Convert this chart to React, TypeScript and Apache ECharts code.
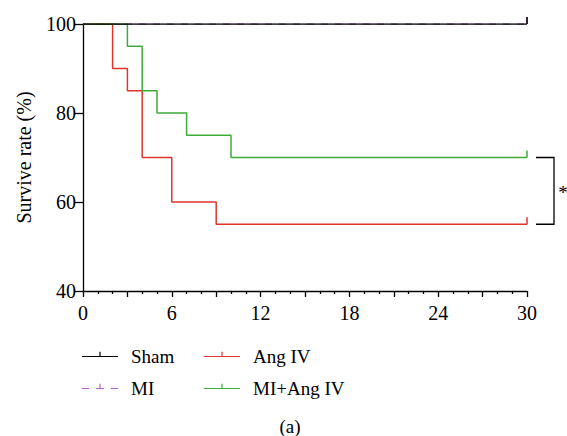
import React, { useEffect, useRef } from "react";
import * as echarts from "echarts";

const seriesNames = ["Sham", "MI", "Ang IV", "MI+Ang IV"];
const seriesColors = ["#000000", "#b85fcf", "#e0342f", "#3dac38"];
const shamData = [[0, 100], [30, 100]];
const miData = [[0, 100], [30, 100]];
const angData = [[0, 100], [2, 90], [3, 85], [4, 70], [6, 60], [9, 55], [30, 55]];
const miAngData = [[0, 100], [3, 95], [4, 85], [5, 80], [7, 75], [10, 70], [30, 70]];
const censorPoints = [[[30, 100]], [[30, 100]], [[30, 55]], [[30, 70]]];
const xTicksLabeled = [0, 6, 12, 18, 24, 30];
const yTicks = [40, 60, 80, 100];
const bracketValues = [70, 55];

const FONT = "'Liberation Serif', 'Times New Roman', serif";

const solidIcon =
  "path://M0,0h0.01v0.01h-0.01z M0,13.99h0.01v0.01h-0.01z M0,6.4H36V7.6H0Z M17.4,2.2H18.6V6.4H17.4Z";
const dashIcon =
  "path://M0,0h0.01v0.01h-0.01z M0,13.99h0.01v0.01h-0.01z M0,6.4H7V7.6H0Z M14,6.4H22V7.6H14Z M29,6.4H36V7.6H29Z M17.4,2.2H18.6V6.4H17.4Z";

export default function App() {
  const ref = useRef<HTMLDivElement>(null);
  useEffect(() => {
    document.body.style.margin = "0";
    const chart = echarts.init(ref.current!, null, { renderer: "svg" });
    const lineData = [shamData, miData, angData, miAngData];
    const order = [1, 0, 2, 3];
    const series: any[] = [];
    order.forEach((i) => {
      series.push({
        name: seriesNames[i],
        type: "line",
        step: "end",
        symbol: "none",
        data: lineData[i],
        itemStyle: { color: seriesColors[i] },
        lineStyle: {
          color: seriesColors[i],
          width: i === 0 ? 1.4 : 1.5,
          type: i === 1 ? [7, 7] : "solid",
        },
        z: i === 0 ? 4 : 3,
      });
    });
    order.forEach((i) => {
      series.push({
        name: seriesNames[i],
        type: "custom",
        data: censorPoints[i],
        renderItem: (params: any, api: any) => {
          const p = api.coord([api.value(0), api.value(1)]);
          return {
            type: "line",
            shape: { x1: p[0], y1: p[1], x2: p[0], y2: p[1] - 7 },
            style: { stroke: seriesColors[i], lineWidth: 1.5 },
          };
        },
        z: 5,
      });
    });

    const legendItem = (i: number) => ({
      name: seriesNames[i],
      icon: i === 1 ? dashIcon : solidIcon,
      itemStyle: { color: seriesColors[i], borderWidth: 0 },
      lineStyle: { width: 0, opacity: 0 },
    });
    const legendCommon = {
      orient: "vertical",
      itemWidth: 36,
      itemHeight: 14,
      itemGap: 13,
      selectedMode: false,
      textStyle: {
        fontFamily: FONT,
        fontSize: 19,
        color: "#000",
        padding: [0, 0, 0, 8],
      },
    };

    chart.setOption({
      animation: false,
      grid: { left: 83, right: 40, top: 24, bottom: 145, containLabel: false },
      xAxis: {
        type: "value",
        min: 0,
        max: 30,
        interval: 3,
        axisLine: { lineStyle: { color: "#000", width: 1.3 } },
        axisTick: { show: true, length: 6, lineStyle: { color: "#000", width: 1.3 } },
        minorTick: { show: true, splitNumber: 3, length: 3, lineStyle: { color: "#000", width: 1.3 } },
        splitLine: { show: false },
        axisLabel: {
          margin: 12,
          fontFamily: FONT,
          fontSize: 20,
          color: "#000",
          formatter: (v: number) => (xTicksLabeled.includes(v) ? String(v) : ""),
        },
      },
      yAxis: {
        type: "value",
        min: yTicks[0],
        max: yTicks[yTicks.length - 1],
        interval: 20,
        name: "Survive rate (%)",
        nameLocation: "middle",
        nameGap: 49,
        nameTextStyle: { fontFamily: FONT, fontSize: 20, color: "#000" },
        axisLine: { show: true, lineStyle: { color: "#000", width: 1.3 } },
        axisTick: { show: true, length: 8, lineStyle: { color: "#000", width: 1.3 } },
        splitLine: { show: false },
        axisLabel: { margin: 7, fontFamily: FONT, fontSize: 20, color: "#000" },
      },
      legend: [
        { ...legendCommon, left: 77, top: 342, data: [legendItem(0), legendItem(1)] },
        { ...legendCommon, left: 199, top: 342, data: [legendItem(2), legendItem(3)] },
      ],
      series,
    });

    const top = chart.convertToPixel({ gridIndex: 0 }, [30, bracketValues[0]]) as number[];
    const bot = chart.convertToPixel({ gridIndex: 0 }, [30, bracketValues[1]]) as number[];
    const bx0 = top[0] + 9;
    const bx1 = top[0] + 27;
    chart.setOption({
      graphic: [
        {
          type: "polyline",
          shape: { points: [[bx0, top[1]], [bx1, top[1]], [bx1, bot[1]], [bx0, bot[1]]] },
          style: { stroke: "#000", lineWidth: 1.3, fill: null },
        },
        {
          type: "text",
          x: bx1 + 9,
          y: (top[1] + bot[1]) / 2 + 2,
          style: {
            text: "*",
            fontFamily: FONT,
            fontSize: 19,
            fill: "#000",
            textAlign: "center",
            textVerticalAlign: "middle",
          },
        },
        {
          type: "text",
          x: 290,
          y: 426,
          style: {
            text: "(a)",
            fontFamily: FONT,
            fontSize: 19,
            fill: "#000",
            textAlign: "center",
            textVerticalAlign: "middle",
          },
        },
      ],
    });
    return () => chart.dispose();
  }, []);
  return <div ref={ref} style={{ width: 567, height: 436 }} />;
}
